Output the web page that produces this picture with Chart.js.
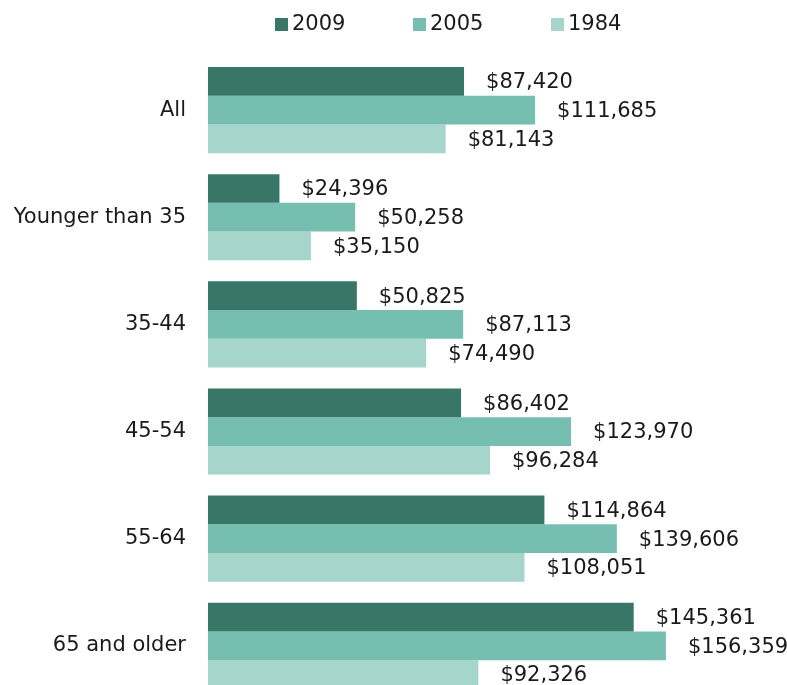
<!DOCTYPE html>
<html>
<head>
<meta charset="utf-8">
<script src="https://cdn.jsdelivr.net/npm/chart.js@4/dist/chart.umd.min.js"></script>
<style>
  html, body { margin: 0; padding: 0; background: #fff; overflow: hidden; }
  #wrap { position: relative; width: 787px; height: 734px; }
  #c { position: absolute; left: 0; top: 0; }
  #legend { position: absolute; top: 0; left: 0; width: 787px; height: 50px;
            font-family: "DejaVu Sans", Verdana, sans-serif; font-size: 21px; color: #1a1a1a; }
  .item { position: absolute; top: 10px; display: flex; align-items: center; height: 26px; }
  .box { width: 13px; height: 13px; margin-right: 4px; margin-top: 2px; }
</style>
</head>
<body>
<div id="wrap">
  <canvas id="c" width="787" height="734"></canvas>
  <div id="legend"></div>
</div>
<script>
const categories = ["All", "Younger than 35", "35-44", "45-54", "55-64", "65 and older"];
const seriesNames = ["2009", "2005", "1984"];
const values2009 = [87420, 24396, 50825, 86402, 114864, 145361];
const values2005 = [111685, 50258, 87113, 123970, 139606, 156359];
const values1984 = [81143, 35150, 74490, 96284, 108051, 92326];
const colors = ["#387668", "#76bfb0", "#a6d5cb"];

const FONT = '"DejaVu Sans", Verdana, sans-serif';
const TEXT = '#1a1a1a';

// HTML legend
const legendEl = document.getElementById('legend');
const legendLefts = [275, 413, 551];
seriesNames.forEach((n, i) => {
  const it = document.createElement('div');
  it.className = 'item';
  it.style.left = legendLefts[i] + 'px';
  const b = document.createElement('span');
  b.className = 'box';
  b.style.background = colors[i];
  const t = document.createElement('span');
  t.textContent = n;
  it.appendChild(b); it.appendChild(t);
  legendEl.appendChild(it);
});

const valueLabels = {
  id: 'valueLabels',
  afterDatasetsDraw(chart) {
    const ctx = chart.ctx;
    ctx.save();
    ctx.font = '21px ' + FONT;
    ctx.fillStyle = TEXT;
    ctx.textAlign = 'left';
    ctx.textBaseline = 'middle';
    chart.data.datasets.forEach((ds, di) => {
      const meta = chart.getDatasetMeta(di);
      meta.data.forEach((bar, i) => {
        const v = ds.data[i];
        ctx.fillText('$' + v.toLocaleString('en-US'), bar.x + 22, bar.y + 1.5);
      });
    });
    ctx.restore();
  }
};

new Chart(document.getElementById('c'), {
  type: 'bar',
  data: {
    labels: categories,
    datasets: [
      { label: seriesNames[0], data: values2009, backgroundColor: colors[0] },
      { label: seriesNames[1], data: values2005, backgroundColor: colors[1] },
      { label: seriesNames[2], data: values1984, backgroundColor: colors[2] }
    ]
  },
  options: {
    indexAxis: 'y',
    responsive: false,
    animation: false,
    devicePixelRatio: 1,
    layout: { padding: { top: 56.5, right: 0, bottom: 0, left: 0 } },
    datasets: { bar: { categoryPercentage: 0.804, barPercentage: 1.0, borderWidth: 0 } },
    plugins: { legend: { display: false }, tooltip: { enabled: false } },
    scales: {
      x: { display: false, min: 0, max: 197700 },
      y: {
        grid: { display: false, drawTicks: false },
        border: { display: false },
        ticks: { padding: 22, color: TEXT, font: { family: FONT, size: 21 } },
        afterFit(scale) { scale.width = 208; }
      }
    }
  },
  plugins: [valueLabels]
});
</script>
</body>
</html>
